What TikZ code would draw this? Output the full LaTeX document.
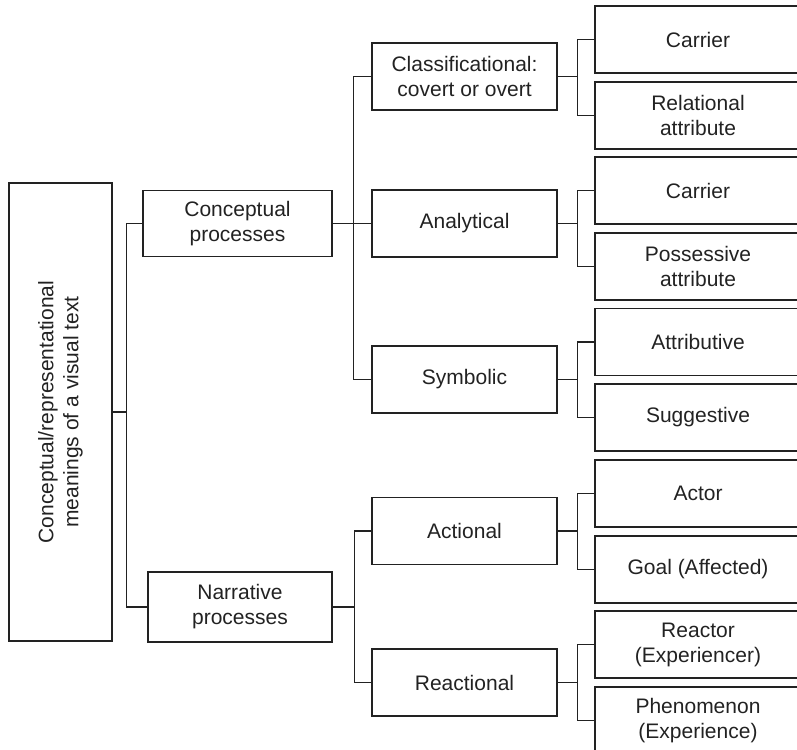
\documentclass[tikz,border=0pt]{standalone}
\usepackage{fontspec}
\setmainfont{Liberation Sans}
\usetikzlibrary{calc}
\definecolor{ink}{HTML}{222222}
\begin{document}
\begin{tikzpicture}[x=1pt,y=-1pt,
  every node/.style={font=\fontsize{21}{25}\selectfont, text=ink},
  box/.style={draw=ink, line width=1.2pt, align=center, inner sep=0pt},
  lvone/.style={box, minimum height=66pt},
  lvtwo/.style={box, minimum width=185pt, minimum height=67pt},
  lvthree/.style={box, minimum width=206pt, minimum height=67pt},
  link/.style={draw=ink, line width=1.1pt}]
\useasboundingbox (0,0) rectangle (797,749);
\clip (0,0) rectangle (797,749);

% root
\node[box, rotate=90, minimum width=458pt, minimum height=103pt] (root) at (60.5,412)
  {Conceptual/representational\\meanings of a visual text};

% first level
\node[lvone, minimum width=189pt] (con) at (237.5,223.5) {Conceptual\\processes};
\node[lvone, minimum width=184pt, minimum height=70pt] (nar) at (240,607) {Narrative\\processes};

% second level
\node[lvtwo] (cls) at (464.5,76.5) {Classificational:\\covert or overt};
\node[lvtwo] (ana) at (464.5,223.5) {Analytical};
\node[lvtwo] (sym) at (464.5,379.5) {Symbolic};
\node[lvtwo] (act) at (464.5,531) {Actional};
\node[lvtwo] (rea) at (464.5,682.5) {Reactional};

% third level
\node[lvthree] (car1) at (698,39.5) {Carrier};
\node[lvthree] (rel)  at (698,115.5) {Relational\\attribute};
\node[lvthree] (car2) at (698,190.5) {Carrier};
\node[lvthree] (pos)  at (698,266.5) {Possessive\\attribute};
\node[lvthree] (att)  at (698,342) {Attributive};
\node[lvthree] (sug)  at (698,417.5) {Suggestive};
\node[lvthree] (acr)  at (698,493.5) {Actor};
\node[lvthree] (goa)  at (698,569.5) {Goal (Affected)};
\node[lvthree] (rct)  at (698,644.5) {Reactor\\(Experiencer)};
\node[lvthree] (phe)  at (698,720.5) {Phenomenon\\(Experience)};

% bracket joints
\coordinate (jr) at ($(root.south)+(14,0)$);
\coordinate (jc) at ($(con.east)+(21,0)$);
\coordinate (jn) at ($(nar.east)+(22,0)$);
\foreach \p in {cls,ana,sym,act,rea}
  \coordinate (j\p) at ($(\p.east)+(20,0)$);

% connectors
\draw[link] (root.south) -- (jr);
\draw[link] (con.west) -| (jr) |- (nar.west);

\draw[link] (con.east) -- (jc);
\draw[link] (cls.west) -| (jc) |- (sym.west);
\draw[link] (ana.west) -- (jc);

\draw[link] (nar.east) -- (jn);
\draw[link] (act.west) -| (jn) |- (rea.west);

\draw[link] (cls.east) -- (jcls);
\draw[link] (car1.west) -| (jcls) |- (rel.west);
\draw[link] (ana.east) -- (jana);
\draw[link] (car2.west) -| (jana) |- (pos.west);
\draw[link] (sym.east) -- (jsym);
\draw[link] (att.west) -| (jsym) |- (sug.west);
\draw[link] (act.east) -- (jact);
\draw[link] (acr.west) -| (jact) |- (goa.west);
\draw[link] (rea.east) -- (jrea);
\draw[link] (rct.west) -| (jrea) |- (phe.west);
\end{tikzpicture}
\end{document}
